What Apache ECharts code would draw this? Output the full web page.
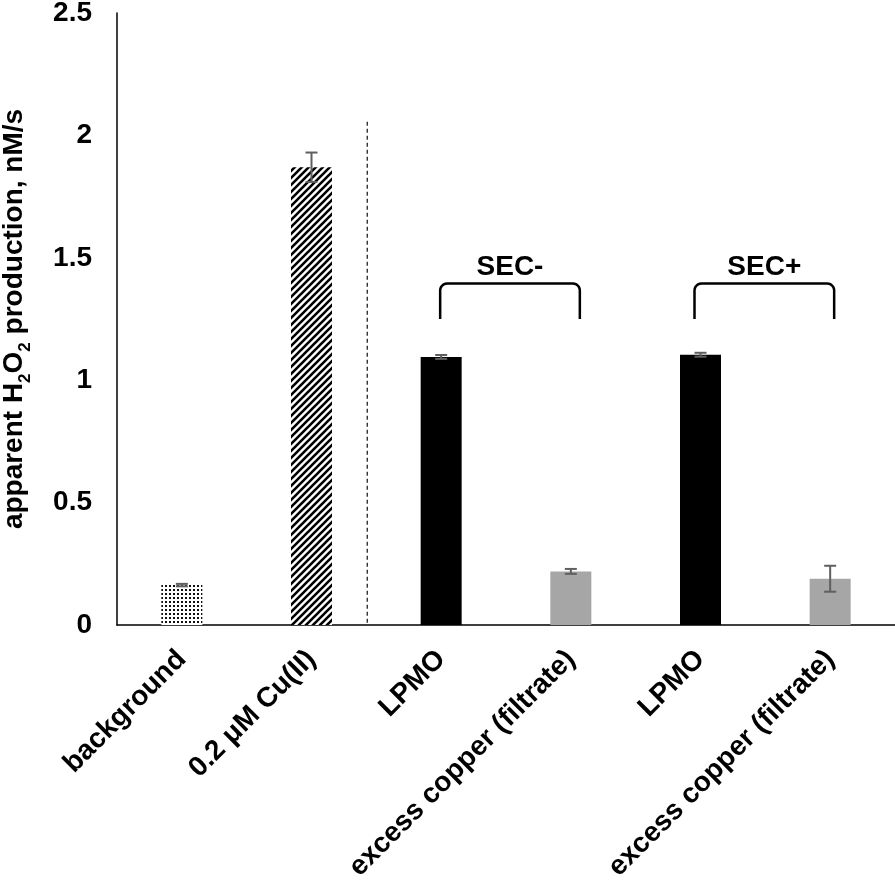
<!DOCTYPE html>
<html>
<head>
<meta charset="utf-8">
<script src="https://cdn.jsdelivr.net/npm/echarts@6/dist/echarts.min.js"></script>
<style>html,body{margin:0;padding:0;background:#fff;}#main{width:895px;height:882px;}</style>
</head>
<body>
<div id="main"></div>
<script>
const categories = ['background', '0.2 μM Cu(II)', 'LPMO', 'excess copper (filtrate)', 'LPMO', 'excess copper (filtrate)'];
const values = [0.163, 1.870, 1.095, 0.219, 1.104, 0.189];
const errors = [0.005, 0.060, 0.008, 0.010, 0.008, 0.053];
const groupLabels = ['SEC-', 'SEC+'];
const groupRanges = [[2, 3], [4, 5]];

const FONT = '"Liberation Sans", Arial, sans-serif';

function dotPattern() {
  const c = document.createElement('canvas');
  c.width = 4; c.height = 4;
  const g = c.getContext('2d');
  g.fillStyle = '#fff'; g.fillRect(0, 0, 4, 4);
  g.fillStyle = '#111'; g.fillRect(1, 1, 2, 2);
  return c;
}
function hatchPattern() {
  const s = 7;
  const c = document.createElement('canvas');
  c.width = s; c.height = s;
  const g = c.getContext('2d');
  g.fillStyle = '#fff'; g.fillRect(0, 0, s, s);
  g.strokeStyle = '#000'; g.lineWidth = 2.6;
  g.beginPath();
  g.moveTo(-s, s); g.lineTo(s, -s);
  g.moveTo(0, s); g.lineTo(s, 0);
  g.moveTo(0, 2 * s); g.lineTo(2 * s, 0);
  g.stroke();
  return c;
}

const barColors = [
  { image: dotPattern(), repeat: 'repeat' },
  { image: hatchPattern(), repeat: 'repeat' },
  '#000000', '#a6a6a6', '#000000', '#a6a6a6'
];

const chart = echarts.init(document.getElementById('main'), null, { renderer: 'canvas' });
chart.setOption({
  animation: false,
  backgroundColor: '#fff',
  grid: { left: 117, right: 0, top: 13, bottom: 257, containLabel: false, outerBoundsMode: 'none' },
  xAxis: {
    type: 'category',
    data: categories,
    axisLine: { show: true, lineStyle: { color: '#000', width: 1.5 } },
    axisTick: { show: false },
    axisLabel: {
      rotate: 45, interval: 0, margin: 30,
      color: '#000', fontWeight: 'bold', fontSize: 28, fontFamily: FONT
    },
    splitLine: { show: false }
  },
  yAxis: {
    type: 'value', min: 0, max: 2.5, interval: 0.5,
    axisLine: { show: true, lineStyle: { color: '#000', width: 1.5 } },
    axisTick: { show: false },
    splitLine: { show: false },
    axisLabel: { color: '#000', fontWeight: 'bold', fontSize: 28, fontFamily: FONT, margin: 25 },
    name: '{n|apparent H}{s|2}{n|O}{s|2}{n| production, nM/s}',
    nameLocation: 'middle',
    nameGap: 89,
    nameTextStyle: {
      rich: {
        n: { fontSize: 28, fontWeight: 'bold', fontFamily: FONT, color: '#000', lineHeight: 32, verticalAlign: 'bottom' },
        s: { fontSize: 17, fontWeight: 'bold', fontFamily: FONT, color: '#000', lineHeight: 32, verticalAlign: 'bottom', padding: [0, 0, -6, 0] }
      }
    }
  },
  series: [
    {
      type: 'bar',
      barWidth: 41,
      data: values.map((v, i) => ({ value: v, itemStyle: { color: barColors[i] } })),
      z: 2
    },
    {
      type: 'custom',
      z: 3,
      data: values.map((v, i) => [i, v, errors[i]]),
      renderItem: function (params, api) {
        const x = api.value(0), y = api.value(1), e = api.value(2);
        const top = api.coord([x, y + e]);
        const bot = api.coord([x, y - e]);
        const hw = 6;
        const st = { stroke: '#5f5f5f', lineWidth: 2 };
        return {
          type: 'group',
          children: [
            { type: 'line', shape: { x1: top[0], y1: top[1], x2: bot[0], y2: bot[1] }, style: st },
            { type: 'line', shape: { x1: top[0] - hw, y1: top[1], x2: top[0] + hw, y2: top[1] }, style: st },
            { type: 'line', shape: { x1: bot[0] - hw, y1: bot[1], x2: bot[0] + hw, y2: bot[1] }, style: st }
          ]
        };
      }
    }
  ]
});

// annotations: dashed divider, brackets and group labels
const px = (i) => chart.convertToPixel({ xAxisIndex: 0 }, i);
const py = (v) => chart.convertToPixel({ yAxisIndex: 0 }, v);
const graphics = [];
const dx = px(1) + 0.43 * (px(2) - px(1));
graphics.push({
  type: 'line', shape: { x1: dx, y1: py(2.056), x2: dx, y2: py(0) },
  style: { stroke: '#222', lineWidth: 1.3, lineDash: [4, 3] }, z: 5
});
function roundedBracket(l, r, yt, yb, rad) {
  const pts = [[l, yb]];
  const n = 6;
  for (let i = 0; i <= n; i++) {
    const a = Math.PI - (Math.PI / 2) * (i / n);
    pts.push([l + rad + rad * Math.cos(a), yt + rad - rad * Math.sin(a)]);
  }
  for (let i = 0; i <= n; i++) {
    const a = Math.PI / 2 - (Math.PI / 2) * (i / n);
    pts.push([r - rad + rad * Math.cos(a), yt + rad - rad * Math.sin(a)]);
  }
  pts.push([r, yb]);
  return pts;
}
const offsets = [[-1, 9], [-6, 4]];
groupRanges.forEach((rg, k) => {
  const l = px(rg[0]) + offsets[k][0], rr = px(rg[1]) + offsets[k][1];
  const yt = py(1.395), yb = py(1.25);
  graphics.push({
    type: 'polyline', z: 5,
    shape: { points: roundedBracket(l, rr, yt, yb, 7) },
    style: { stroke: '#000', lineWidth: 2.5, fill: null }
  });
  graphics.push({
    type: 'text', z: 5,
    x: (l + rr) / 2, y: py(1.462),
    style: {
      text: groupLabels[k], fill: '#000', font: 'bold 28px ' + FONT,
      textAlign: 'center', textVerticalAlign: 'middle'
    }
  });
});
chart.setOption({ graphic: graphics });
</script>
</body>
</html>
